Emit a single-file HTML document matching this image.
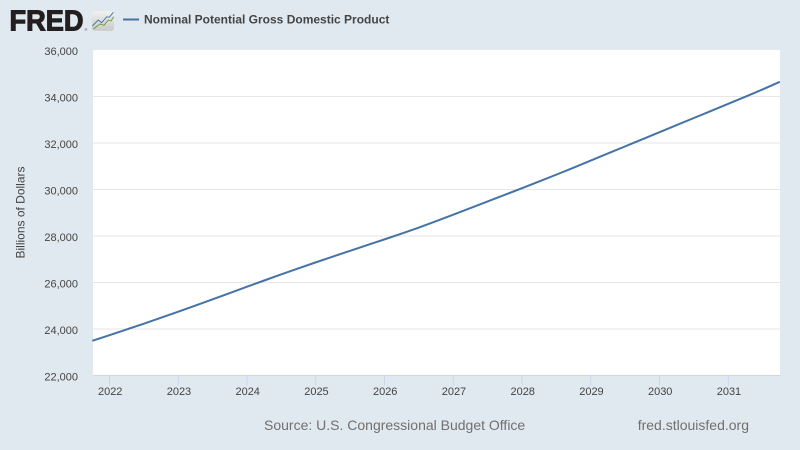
<!DOCTYPE html>
<html>
<head>
<meta charset="utf-8">
<title>Nominal Potential Gross Domestic Product</title>
<style>
html,body{margin:0;padding:0;background:#e1e9f0;}
#wrap{position:relative;width:800px;height:450px;overflow:hidden;background:#e1e9f0;}
svg{position:absolute;left:0;top:0;}
text{font-family:"Liberation Sans",sans-serif;}
</style>
</head>
<body>
<div id="wrap">
<svg id="chart" width="800" height="450" viewBox="0 0 800 450">
  <defs>
    <linearGradient id="iconGrad" x1="0" y1="0" x2="0" y2="1">
      <stop offset="0" stop-color="#f1f1ef"/>
      <stop offset="1" stop-color="#c9cac6"/>
    </linearGradient>
  </defs>
  <g>
    <text x="9.5" y="30.7" font-size="28.5" font-weight="700" fill="#231f20" stroke="#231f20" stroke-width="1.1" textLength="74" lengthAdjust="spacingAndGlyphs">FRED</text>
    <text x="84.5" y="31" font-size="4" fill="#555">®</text>
    <rect x="92" y="11" width="22" height="19.7" rx="2.5" fill="url(#iconGrad)"/>
    <polyline points="92.3,26 98.3,20 101.7,22.7 106.7,16.7 109.3,17.3 113.3,12.3" fill="none" stroke="#4572a7" stroke-width="0.9"/>
    <polyline points="93.3,29 100,24 104,25.3 108.3,20 111,21 113.7,16.7" fill="none" stroke="#6a9a3a" stroke-width="0.9"/>
  </g>
  <line x1="123" y1="19.5" x2="139" y2="19.5" stroke="#4572a7" stroke-width="2"/>
  <text x="144" y="23.5" font-size="12" font-weight="700" fill="#444">Nominal Potential Gross Domestic Product</text>
  <rect x="93" y="50" width="687" height="325.5" fill="#fff"/>
  <g id="grid"></g>
  <g id="yticks"></g>
  <g id="xticks"></g>
  <path id="series" fill="none" stroke="#4572a7" stroke-width="2" stroke-linejoin="round"/>
  <text transform="translate(24.5,212.5) rotate(-90)" text-anchor="middle" font-size="12" fill="#444">Billions of Dollars</text>
  <text x="264" y="430" font-size="14" fill="#707070">Source: U.S. Congressional Budget Office</text>
  <text x="749" y="430" font-size="14" text-anchor="end" fill="#707070">fred.stlouisfed.org</text>
</svg>
</div>
<script>
// Quarterly observations, first quarter of the series is 2021 Q4
const startYear = 2021.75;
const potentialGdp = [
  23490,
  23735, 23980, 24230, 24485,
  24745, 25010, 25278, 25548,
  25818, 26086, 26351, 26611,
  26866, 27116, 27364, 27610,
  27855, 28105, 28365, 28635,
  28915, 29200, 29485, 29770,
  30055, 30345, 30640, 30940,
  31245, 31550, 31855, 32160,
  32465, 32770, 33075, 33380,
  33685, 33990, 34305, 34630
];
const yTickValues = [22000, 24000, 26000, 28000, 30000, 32000, 34000, 36000];
const xTickYears = [2022, 2023, 2024, 2025, 2026, 2027, 2028, 2029, 2030, 2031];

const NS = 'http://www.w3.org/2000/svg';
const yMin = 22000, yMax = 36000, plotTop = 50, plotBottom = 375.5;
const xOrigin = 109.5, pxPerYear = 68.75;
function xScale(year) { return xOrigin + (year - 2022) * pxPerYear; }
function yScale(v) { return plotBottom - (v - yMin) / (yMax - yMin) * (plotBottom - plotTop); }
function make(tag, attrs, parent, txt) {
  const el = document.createElementNS(NS, tag);
  for (const k in attrs) el.setAttribute(k, attrs[k]);
  if (txt !== undefined) el.textContent = txt;
  parent.appendChild(el);
  return el;
}
const grid = document.getElementById('grid');
const yG = document.getElementById('yticks');
const xG = document.getElementById('xticks');
yTickValues.forEach(function (v) {
  const y = yScale(v);
  if (v > yMin && v < yMax) {
    const gl = make('line', {x1: 93, x2: 780, y1: y, y2: y, stroke: '#e6e6e6', 'stroke-width': 1}, grid);
    
    
  }
  const t = make('text', {x: 78, y: y + 5, 'text-anchor': 'end', 'font-size': 11, fill: '#444'}, yG, v.toLocaleString('en-US'));
  
  
});
const axisLine = make('line', {x1: 93, x2: 780, y1: 375.5, y2: 375.5, stroke: '#ccd6eb', 'stroke-width': 1}, xG);


xTickYears.forEach(function (yr) {
  const x = xScale(yr);
  const tk = make('line', {x1: x, x2: x, y1: 375.5, y2: 385.5, stroke: '#ccd6eb', 'stroke-width': 1}, xG);
  
  
  const t = make('text', {x: x + 0.7, y: 395, 'text-anchor': 'middle', 'font-size': 11, fill: '#444'}, xG, String(yr));
  
  
});
const d = potentialGdp.map(function (v, i) {
  return (i ? 'L' : 'M') + xScale(startYear + i / 4).toFixed(2) + ' ' + yScale(v).toFixed(2);
}).join(' ');
document.getElementById('series').setAttribute('d', d);
</script>
</body>
</html>
